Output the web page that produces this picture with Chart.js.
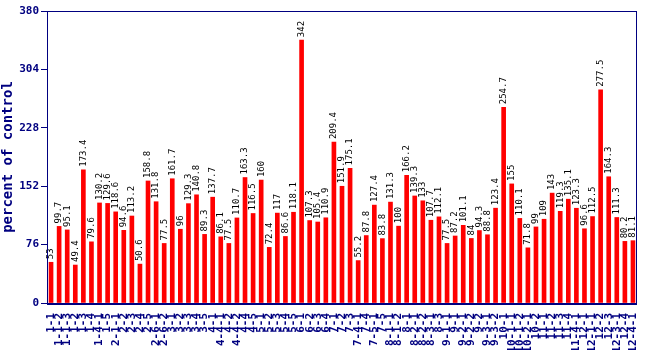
<!DOCTYPE html>
<html>
<head>
<meta charset="utf-8">
<script src="https://cdn.jsdelivr.net/npm/chart.js@4/dist/chart.umd.min.js"></script>
<style>
  body { margin:0; background:#fff; }
  #wrap { width:650px; height:350px; }
</style>
</head>
<body>
<div id="wrap"><canvas id="chart" width="650" height="350"></canvas></div>
<script>
// Categories (x-axis tick labels)
const categories = [
  "1-1","1-1-2","1-1-3","1-2","1-3","1-4","1-4-1","1-5","2-1-1","2-2",
  "2-3","2-4","2-5","2-6-1","2-6-2","3-1","3-2","3-3","3-4","3-5",
  "4-1","4-4-1","4-2","4-4-2","4-4","4-5","5-1","5-2","5-3","5-4",
  "5-5","6-1","6-2","6-3","6-4","7-1","7-2","7-3","7-4-1","7-4",
  "7-5-1","7-5","8-1-1","8-1-2","8-1","8-2-1","8-2-2","8-3-1","8-3","9-1-1",
  "9-1","9-2-1","9-2-2","9-2","9-3-1","9-3-2","10-1","10-1-1","10-1-2","10-2-1",
  "10-2","11-1","11-2","11-3","11-4","11-4-1","12-1","12-1-1","12-2","12-3",
  "12-3-1","12-4","12-4-1"
];

// Percent of control for each category
const values = [
  53, 99.7, 95.1, 49.4, 173.4, 79.6, 130.2, 129.6, 118.6, 94.6,
  113.2, 50.6, 158.8, 131.8, 77.5, 161.7, 96, 129.3, 140.8, 89.3,
  137.7, 86.1, 77.5, 110.7, 163.3, 116.5, 160, 72.4, 117, 86.6,
  118.1, 342, 107.3, 105.4, 110.9, 209.4, 151.9, 175.1, 55.2, 87.8,
  127.4, 83.8, 131.3, 100, 166.2, 139.3, 133, 107.7, 112.1, 77.5,
  87.2, 101.1, 84, 94.3, 88.8, 123.4, 254.7, 155, 110.1, 71.8,
  99, 109, 143, 119.3, 135.1, 123.3, 96.6, 112.5, 277.5, 164.3,
  111.3, 80.2, 81.1
];

// Y tick values
const yTicks = [0, 76, 152, 228, 304, 380];

const navy = "#000080";
const mono = "'DejaVu Sans Mono', 'Liberation Mono', monospace";

// Draws rotated value labels above each bar
const valueLabels = {
  id: "valueLabels",
  afterDatasetsDraw(chart) {
    const ctx = chart.ctx;
    const meta = chart.getDatasetMeta(0);
    ctx.save();
    ctx.fillStyle = "#000";
    ctx.font = "9px " + mono;
    ctx.textAlign = "left";
    ctx.textBaseline = "middle";
    meta.data.forEach((bar, i) => {
      ctx.save();
      ctx.translate(bar.x, bar.y - 3);
      ctx.rotate(-Math.PI / 2);
      ctx.fillText(String(values[i]), 0, 0);
      ctx.restore();
    });
    ctx.restore();
  }
};

// Box round the plot area
const plotBox = {
  id: "plotBox",
  afterDraw(chart) {
    const a = chart.chartArea;
    const ctx = chart.ctx;
    ctx.save();
    ctx.strokeStyle = navy;
    ctx.lineWidth = 1;
    ctx.strokeRect(a.left + 0.5, a.top + 0.5, a.right - a.left - 1, a.bottom - a.top);
    ctx.lineWidth = 2;
    ctx.beginPath();
    ctx.moveTo(a.left, a.bottom + 1);
    ctx.lineTo(a.right, a.bottom + 1);
    ctx.stroke();
    ctx.restore();
  }
};

new Chart(document.getElementById("chart").getContext("2d"), {
  type: "bar",
  data: {
    labels: categories,
    datasets: [{
      data: values,
      backgroundColor: "#ff0000",
      borderWidth: 0,
      barThickness: 4
    }]
  },
  options: {
    responsive: false,
    animation: false,
    layout: { padding: { top: 11, right: 13, left: 0, bottom: 0 } },
    plugins: { legend: { display: false }, tooltip: { enabled: false } },
    scales: {
      x: {
        offset: true,
        grid: { display: false },
        border: { display: false },
        ticks: {
          autoSkip: false,
          minRotation: 90,
          maxRotation: 90,
          color: navy,
          padding: 2,
          font: { family: mono, size: 11, weight: "bold" }
        },
        afterFit(scale) { scale.height = 47; }
      },
      y: {
        min: 0,
        max: 380,
        afterBuildTicks(scale) { scale.ticks = yTicks.map(v => ({ value: v })); },
        grid: { display: true, drawOnChartArea: false, tickLength: 6, color: navy },
        border: { display: false },
        ticks: {
          color: navy,
          padding: 2,
          font: { family: mono, size: 11, weight: "bold" }
        },
        title: {
          display: true,
          text: "percent of control",
          color: navy,
          padding: 0,
          font: { family: mono, size: 14, weight: "bold" }
        },
        afterFit(scale) { scale.width = 47; }
      }
    }
  },
  plugins: [valueLabels, plotBox]
});
</script>
</body>
</html>
